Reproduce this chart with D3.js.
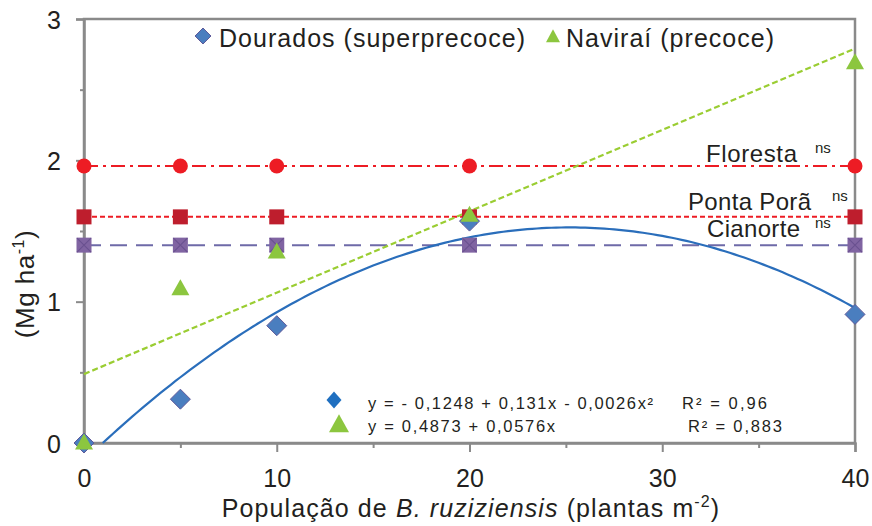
<!DOCTYPE html>
<html><head><meta charset="utf-8">
<script src="https://cdn.jsdelivr.net/npm/d3@7"></script>
<style>
html,body{margin:0;padding:0;background:#fff;}
svg{display:block;font-family:"Liberation Sans",Arial,sans-serif;}
</style></head>
<body><svg id="c" width="872" height="526"></svg>
<script>
// ---- data ----
const xValues = [0, 5, 10, 20, 40];
const dourados = [0, 0.31, 0.83, 1.57, 0.91];
const navirai = [0, 1.09, 1.35, 1.61, 2.69];
const floresta = [1.96, 1.96, 1.96, 1.96, 1.96];
const pontaPora = [1.60, 1.60, 1.60, 1.60, 1.60];
const cianorte = [1.40, 1.40, 1.40, 1.40, 1.40];
const douradosCoef = [-0.1248, 0.131, -0.0026];
const naviraiCoef = [0.4873, 0.0576];
const xTicks = [0, 10, 20, 30, 40];
const xMinorTicks = [5, 15, 25, 35];
const yTicks = [0, 1, 2, 3];
const yMinorTicks = [0.5, 1.5, 2.5];
const seriesNames = ["Dourados (superprecoce)", "Naviraí (precoce)"];
const locNames = ["Floresta", "Ponta Porã", "Cianorte"];
const eqTexts = ["y = - 0,1248 + 0,131x - 0,0026x²", "y = 0,4873 + 0,0576x"];
const r2Texts = ["R² = 0,96", "R² = 0,883"];

const svg = d3.select("#c");
const L = 84, R = 855, T = 19, B = 443;
const x = d3.scaleLinear().domain([0, 40]).range([L, R]);
const y = d3.scaleLinear().domain([0, 3]).range([B, T]);
const axisColor = "#8a8a8a";
const ink = "#231f20";

// frame
svg.append("rect").attr("x", L).attr("y", T).attr("width", R - L).attr("height", B - T)
  .attr("fill", "none").attr("stroke", axisColor).attr("stroke-width", 2.5);

// axes
const yAxis = d3.axisLeft(y).tickValues(yTicks).tickSize(8).tickFormat(d3.format("d"));
const yg = svg.append("g").attr("transform", `translate(${L},0)`).call(yAxis);
const xAxis = d3.axisBottom(x).tickValues(xTicks).tickSize(9).tickFormat(d3.format("d"));
const xg = svg.append("g").attr("transform", `translate(0,${B})`).call(xAxis);
[yg, xg].forEach(a => {
  a.select(".domain").attr("stroke", axisColor).attr("stroke-width", 2.5);
  a.selectAll(".tick line").attr("stroke", axisColor).attr("stroke-width", 2);
  a.selectAll(".tick text").attr("fill", ink).attr("font-size", 25)
    .attr("font-family", "Liberation Sans, Arial, sans-serif");
});
yg.selectAll(".tick text").attr("x", -23).attr("dy", "0.36em");
xg.selectAll(".tick text").attr("y", 26).attr("dy", "0.71em");
svg.append("g").attr("transform", `translate(${L},0)`)
  .call(d3.axisLeft(y).tickValues(yMinorTicks).tickSize(4).tickFormat(""))
  .call(a => { a.select(".domain").remove(); a.selectAll("line").attr("stroke", axisColor).attr("stroke-width", 2); });
svg.append("g").attr("transform", `translate(0,${B})`)
  .call(d3.axisBottom(x).tickValues(xMinorTicks).tickSize(5).tickFormat(""))
  .call(a => { a.select(".domain").remove(); a.selectAll("line").attr("stroke", axisColor).attr("stroke-width", 2); });

// axis titles
const yt = svg.append("text").attr("transform", `translate(34,284) rotate(-90)`)
  .attr("text-anchor", "middle").attr("font-size", 26).attr("letter-spacing", 0.5).attr("fill", ink);
yt.append("tspan").text("(Mg ha");
yt.append("tspan").attr("font-size", 16).attr("dy", -10).text("-1");
yt.append("tspan").attr("dy", 10).text(")");

const xt = svg.append("text").attr("x", 471).attr("y", 517)
  .attr("text-anchor", "middle").attr("font-size", 25).attr("letter-spacing", 1.1).attr("fill", ink);
xt.append("tspan").text("População de ");
xt.append("tspan").attr("font-style", "italic").text("B. ruziziensis");
xt.append("tspan").text(" (plantas m");
xt.append("tspan").attr("font-size", 16).attr("dy", -10).text("-2");
xt.append("tspan").attr("dy", 10).text(")");

// horizontal location lines
const hLine = (vals, color, dash, w) => svg.append("path")
  .attr("d", d3.line()([[x(xValues[0]), y(vals[0])], [x(xValues[xValues.length - 1]), y(vals[vals.length - 1])]]))
  .attr("fill", "none").attr("stroke", color).attr("stroke-width", w).attr("stroke-dasharray", dash);
hLine(floresta, "#ed1c24", "14,5,3,5", 2);
hLine(pontaPora, "#ed1c24", "5,3", 2);
hLine(cianorte, "#6e6aa8", "17,9", 2);

// trend lines (from the equations shown on the chart)
const xs = d3.range(0, 40.001, 0.25);
const quad = v => douradosCoef[0] + douradosCoef[1] * v + douradosCoef[2] * v * v;
const disc = Math.sqrt(douradosCoef[1] ** 2 - 4 * douradosCoef[2] * douradosCoef[0]);
const r0 = Math.min(...[(-douradosCoef[1] + disc) / (2 * douradosCoef[2]), (-douradosCoef[1] - disc) / (2 * douradosCoef[2])].filter(v => v > 0));
const qPts = [r0].concat(xs.filter(v => v > r0)).map(v => [x(v), y(quad(v))]);
svg.append("path").attr("d", d3.line()(qPts)).attr("fill", "none")
  .attr("stroke", "#2a6ebb").attr("stroke-width", 2.2);
svg.append("path").attr("d", d3.line()([0, 40].map(v => [x(v), y(naviraiCoef[0] + naviraiCoef[1] * v)])))
  .attr("fill", "none").attr("stroke", "#9acd32").attr("stroke-width", 2.2).attr("stroke-dasharray", "6,3");

// marker shapes
const diamond = (cx, cy, w, h) => `M${cx},${cy - h}L${cx + w},${cy}L${cx},${cy + h}L${cx - w},${cy}Z`;
const tri = (cx, cy, w, h) => `M${cx},${cy - h * 0.6}L${cx + w},${cy + h * 0.4}L${cx - w},${cy + h * 0.4}Z`;

svg.selectAll(".fl").data(floresta).enter().append("circle")
  .attr("cx", (d, i) => x(xValues[i])).attr("cy", d => y(d)).attr("r", 7.5).attr("fill", "#ed1c24");
svg.selectAll(".pp").data(pontaPora).enter().append("rect")
  .attr("x", (d, i) => x(xValues[i]) - 7.5).attr("y", d => y(d) - 7.5).attr("width", 15).attr("height", 15)
  .attr("fill", "#be1e2d");
const cg = svg.selectAll(".ci").data(cianorte).enter().append("g")
  .attr("transform", (d, i) => `translate(${x(xValues[i])},${y(d)})`);
cg.append("rect").attr("x", -7.5).attr("y", -7.5).attr("width", 15).attr("height", 15).attr("fill", "#8064a2");
cg.append("path").attr("d", "M-7,-7L7,7M-7,7L7,-7").attr("stroke", "#6a5190").attr("stroke-width", 1.2);
svg.selectAll(".dd").data(dourados).enter().append("path")
  .attr("d", (d, i) => diamond(x(xValues[i]), y(d), 10, 10))
  .attr("fill", "#4a7ebf").attr("stroke", "#5f5a9a").attr("stroke-width", 1);
svg.selectAll(".nv").data(navirai).enter().append("path")
  .attr("d", (d, i) => tri(x(xValues[i]), y(d), 9, 16))
  .attr("fill", "#8cc63f");

// helper: text fitted to a measured width
const fitText = (tx, ty, size, len, str) => svg.append("text").attr("x", tx).attr("y", ty)
  .attr("font-size", size).attr("fill", ink).attr("textLength", len).attr("lengthAdjust", "spacing").text(str);

// location labels
const locVals = [floresta[0], pontaPora[0], cianorte[0]];
const locX = [706, 688, 707];
const locLen = [91, 123, 93];
const locDy = [-4, -7, -8];
const nsX = [815, 832, 815];
locNames.forEach((n, i) => {
  fitText(locX[i], y(locVals[i]) + locDy[i], 24, locLen[i], n);
  svg.append("text").attr("x", nsX[i]).attr("y", y(locVals[i]) + locDy[i] - 9)
    .attr("font-size", 15).attr("fill", ink).text("ns");
});

// top legend
svg.append("path").attr("d", diamond(203, 36, 8, 8)).attr("fill", "#4a7ebf").attr("stroke", "#5f5a9a");
fitText(219, 47, 25, 306, seriesNames[0]);
svg.append("path").attr("d", tri(553, 37, 7, 13)).attr("fill", "#8cc63f");
fitText(566, 47, 25, 208, seriesNames[1]);

// equations
svg.append("path").attr("d", diamond(334, 400, 7.5, 8.5)).attr("fill", "#1f6fc0");
svg.append("path").attr("d", tri(339, 425, 10, 18)).attr("fill", "#8cc63f");
const eqY = [409, 432];
const eqLen = [285, 187];
const r2X = [682, 688];
const r2Len = [85, 94];
eqTexts.forEach((t, i) => {
  fitText(368, eqY[i], 16.5, eqLen[i], t);
  fitText(r2X[i], eqY[i], 16.5, r2Len[i], r2Texts[i]);
});
</script></body></html>
